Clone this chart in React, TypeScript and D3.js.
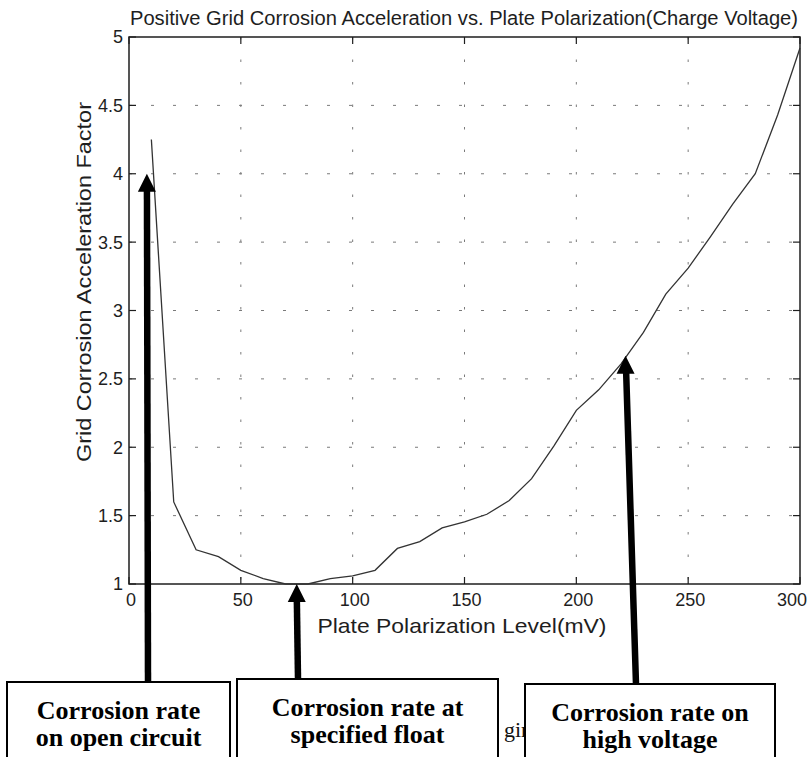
import React from "react";
import * as d3 from "d3";

// chart data
const xTicks = [0, 50, 100, 150, 200, 250, 300];
const yTicks = [1, 1.5, 2, 2.5, 3, 3.5, 4, 4.5, 5];
const yTickLabels = ["1", "1.5", "2", "2.5", "3", "3.5", "4", "4.5", "5"];

const polarization = [10, 20, 30, 40, 50, 60, 70, 80, 90, 100, 110, 120, 130, 140, 150, 160, 170, 180, 190, 200, 210, 220, 230, 240, 250, 260, 270, 280, 290, 300];
const acceleration = [4.25, 1.6, 1.25, 1.2, 1.1, 1.04, 1.0, 1.0, 1.04, 1.06, 1.1, 1.26, 1.31, 1.41, 1.455, 1.51, 1.61, 1.77, 2.01, 2.27, 2.42, 2.61, 2.84, 3.12, 3.31, 3.54, 3.78, 4.0, 4.43, 4.92];

const calloutLabels = [
  ["Corrosion rate", "on open circuit"],
  ["Corrosion rate at", "specified float"],
  ["Corrosion rate on", "high voltage"],
];
const calloutX = [8, 75, 222];
const calloutY = [4.0, 1.0, 2.67];

const title = "Positive Grid Corrosion Acceleration vs. Plate Polarization(Charge Voltage)";
const xLabel = "Plate Polarization Level(mV)";
const yLabel = "Grid Corrosion Acceleration Factor";

export default function App() {
  const W = 812;
  const H = 757;
  const plot = { left: 129, right: 800, top: 37, bottom: 584 };

  const x = d3.scaleLinear().domain([0, 300]).range([plot.left, plot.right]);
  const y = d3.scaleLinear().domain([1, 5]).range([plot.bottom, plot.top]);

  const line = d3
    .line<number>()
    .x((_, i) => x(polarization[i]))
    .y((d) => y(d));

  // callout box layout (pixels)
  const boxes = [
    { left: 7, right: 230, top: 682, baseX: 148 },
    { left: 237, right: 498, top: 679, baseX: 298 },
    { left: 525, right: 775, top: 684, baseX: 636 },
  ];

  const sans = "'Liberation Sans', Arial, Helvetica, sans-serif";
  const serif = "'Liberation Serif', 'Times New Roman', serif";
  const ink = "#1e1e1e";
  const tickLen = 7;

  return (
    <svg
      width={W}
      height={H}
      style={{ position: "absolute", left: 0, top: 0, background: "#fff" }}
    >
      <rect width={W} height={H} fill="#fff" />

      {/* grid */}
      {xTicks.slice(1, -1).map((t) => (
        <line
          key={"gx" + t}
          x1={x(t)}
          x2={x(t)}
          y1={plot.top}
          y2={plot.bottom}
          stroke="#7a7a7a"
          strokeWidth={1}
          strokeDasharray="2.5,20"
        />
      ))}
      {yTicks.slice(1, -1).map((t) => (
        <line
          key={"gy" + t}
          x1={plot.left}
          x2={plot.right}
          y1={y(t)}
          y2={y(t)}
          stroke="#7a7a7a"
          strokeWidth={1}
          strokeDasharray="3,19"
        />
      ))}

      {/* ticks */}
      {xTicks.map((t, i) => {
        const last = i === xTicks.length - 1;
        return (
          <g key={"tx" + t}>
            <line x1={x(t)} x2={x(t)} y1={plot.bottom} y2={plot.bottom - tickLen} stroke={ink} strokeWidth={1.2} />
            <line x1={x(t)} x2={x(t)} y1={plot.top} y2={plot.top + tickLen} stroke={ink} strokeWidth={1.2} />
            <text
              x={last ? x(t) + 7 : x(t) + 2}
              y={plot.bottom + 22}
              textAnchor={last ? "end" : "middle"}
              fontFamily={sans}
              fontSize={18}
              fill={ink}
            >
              {t}
            </text>
          </g>
        );
      })}
      {yTicks.map((t, i) => (
        <g key={"ty" + t}>
          <line x1={plot.left} x2={plot.left + tickLen} y1={y(t)} y2={y(t)} stroke={ink} strokeWidth={1.2} />
          <line x1={plot.right} x2={plot.right - tickLen} y1={y(t)} y2={y(t)} stroke={ink} strokeWidth={1.2} />
          <text
            x={plot.left - 6}
            y={y(t)}
            dy="0.36em"
            textAnchor="end"
            fontFamily={sans}
            fontSize={18}
            fill={ink}
          >
            {yTickLabels[i]}
          </text>
        </g>
      ))}

      {/* frame */}
      <rect
        x={plot.left}
        y={plot.top}
        width={plot.right - plot.left}
        height={plot.bottom - plot.top}
        fill="none"
        stroke={ink}
        strokeWidth={1.5}
      />

      {/* curve */}
      <path d={line(acceleration) || ""} fill="none" stroke="#333" strokeWidth={1.3} />

      {/* titles */}
      <text
        x={plot.left + 1}
        y={25}
        fontFamily={sans}
        fontSize={20}
        fill={ink}
        textLength={668}
        lengthAdjust="spacingAndGlyphs"
      >
        {title}
      </text>
      <text
        x={462}
        y={633}
        textAnchor="middle"
        fontFamily={sans}
        fontSize={21}
        fill={ink}
        textLength={289}
        lengthAdjust="spacingAndGlyphs"
      >
        {xLabel}
      </text>
      <text
        transform={`translate(91,282) rotate(-90)`}
        textAnchor="middle"
        fontFamily={sans}
        fontSize={21}
        fill={ink}
        textLength={360}
        lengthAdjust="spacingAndGlyphs"
      >
        {yLabel}
      </text>

      {/* stray text from the scanned page */}
      <text x={504} y={737} fontFamily={serif} fontSize={22} fill="#111">
        gir
      </text>

      {/* callouts */}
      {calloutLabels.map((lines, i) => {
        const b = boxes[i];
        const tx = x(calloutX[i]);
        const ty = y(calloutY[i]);
        const cx = (b.left + b.right) / 2;
        return (
          <g key={"c" + i}>
            <line x1={tx + (b.baseX - tx) * 0.05} y1={ty + 14} x2={b.baseX} y2={b.top} stroke="#000" strokeWidth={6.5} />
            <path d={`M${tx},${ty} L${tx - 9},${ty + 18} L${tx + 9},${ty + 18} Z`} fill="#000" />
            <rect
              x={b.left}
              y={b.top}
              width={b.right - b.left}
              height={H - b.top + 20}
              fill="#fff"
              stroke="#000"
              strokeWidth={2}
            />
            {lines.map((s, j) => (
              <text
                key={j}
                x={cx}
                y={b.top + 37 + j * 27}
                textAnchor="middle"
                fontFamily={serif}
                fontWeight="bold"
                fontSize={26}
                fill="#000"
              >
                {s}
              </text>
            ))}
          </g>
        );
      })}
    </svg>
  );
}
